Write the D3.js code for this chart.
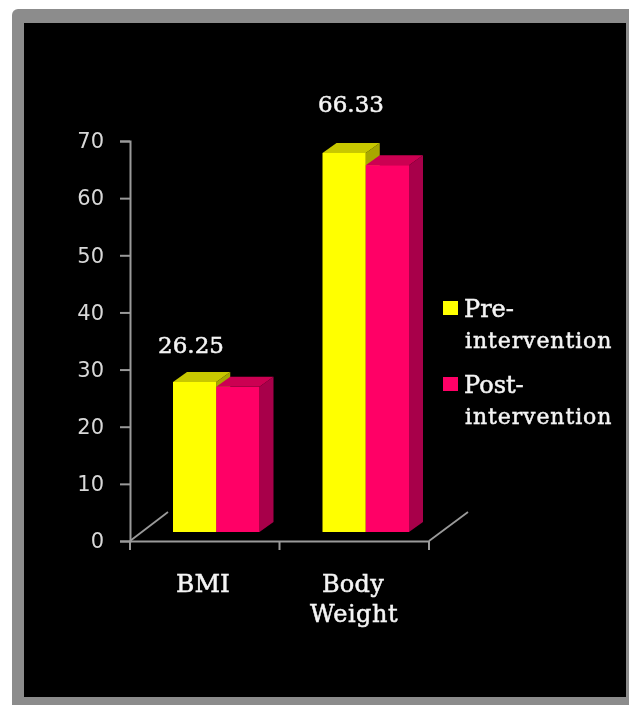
<!DOCTYPE html>
<html>
<head>
<meta charset="utf-8">
<script src="https://cdn.jsdelivr.net/npm/d3@7"></script>
<style>
  html, body { margin: 0; padding: 0; background: #fff; overflow: hidden; }
  svg { display: block; filter: blur(0.5px); }
  .domain, .tick line { stroke: #9a9a9a; stroke-width: 2; }
</style>
</head>
<body>
<div id="chart"></div>
<script>
const categories = ["BMI", "Body Weight"];
const seriesNames = ["Pre-intervention", "Post-intervention"];
const preValues = [26.25, 66.33];
const postValues = [25.4, 64.2];
const yTicks = [0, 10, 20, 30, 40, 50, 60, 70];

const svg = d3.select("#chart").append("svg")
    .attr("width", 629)
    .attr("height", 705);

// grey picture frame with the black plot area inside
svg.append("rect").attr("x", 12).attr("y", 9).attr("width", 640).attr("height", 720).attr("rx", 6).attr("fill", "#8c8c8c");
svg.append("rect").attr("x", 24).attr("y", 23).attr("width", 602).attr("height", 674).attr("fill", "#000");

const yScale = d3.scaleLinear().domain([0, 70]).range([541, 141]);
const xScale = d3.scaleBand().domain(categories).range([130, 429]);
const barScale = d3.scaleBand().domain([0, 1]).range([0, 86.5]);

// floor depth lines
const floor = [[130, 541, 168, 512], [429, 541, 468, 512]];
svg.selectAll(".floor").data(floor).enter().append("line")
    .attr("class", "floor")
    .attr("x1", d => d[0]).attr("y1", d => d[1])
    .attr("x2", d => d[2]).attr("y2", d => d[3])
    .attr("stroke", "#9a9a9a").attr("stroke-width", 1.8);

const yAxis = d3.axisLeft(yScale).tickValues(yTicks).tickSize(10).tickPadding(16);
const yG = svg.append("g").attr("transform", "translate(130,0)").call(yAxis);
yG.selectAll("text")
    .attr("fill", "#d8d8d8")
    .style("font-family", "'DejaVu Sans', sans-serif")
    .style("font-size", "21px");

const xAxis = d3.axisBottom(xScale).tickValues([]).tickSize(0);
const xG = svg.append("g").attr("transform", "translate(0,541)").call(xAxis);
xG.selectAll(".xtick").data(d3.range(3)).enter().append("line")
    .attr("class", "xtick")
    .attr("x1", d => 130 + d * xScale.step()).attr("x2", d => 130 + d * xScale.step())
    .attr("y1", 0).attr("y2", 9)
    .attr("stroke", "#9a9a9a").attr("stroke-width", 2);

const bars = [];
categories.forEach((c, i) => {
    bars.push({cat: c, s: 0, v: preValues[i], front: "#ffff00", top: "#c8c800", side: "#a8a800"});
    bars.push({cat: c, s: 1, v: postValues[i], front: "#ff0066", top: "#cc0052", side: "#a8004a"});
});

const depthX = 14, depthY = 10, offX = 11.5, offY = 9;
const frontH = v => yScale(0) - yScale(v);
const left = d => xScale(d.cat) + xScale.bandwidth() / 2 - 43.25 + offX + barScale(d.s);
const base = yScale(0) - offY;

const g = svg.append("g");
bars.forEach(d => {
    const x0 = left(d), x1 = x0 + barScale.bandwidth(), y0 = base - frontH(d.v);
    g.append("path").attr("fill", d.side)
        .attr("d", `M${x1},${y0}L${x1 + depthX},${y0 - depthY}L${x1 + depthX},${base - depthY}L${x1},${base}Z`);
    g.append("path").attr("fill", d.top)
        .attr("d", `M${x0},${y0}L${x0 + depthX},${y0 - depthY}L${x1 + depthX},${y0 - depthY}L${x1},${y0}Z`);
    g.append("rect").attr("fill", d.front)
        .attr("x", x0).attr("y", y0).attr("width", barScale.bandwidth()).attr("height", frontH(d.v));
});

function label(x, y, str, size, spacing, anchor) {
    return svg.append("text")
        .attr("x", x).attr("y", y)
        .attr("text-anchor", anchor || "start")
        .attr("fill", "#f4f4f4")
        .attr("stroke", "#f4f4f4")
        .attr("stroke-width", 0.5)
        .style("font-family", "'DejaVu Serif', serif")
        .style("font-size", size + "px")
        .style("letter-spacing", spacing + "px")
        .text(str);
}

// value labels, only the pre-intervention bars carry one
label(191, yScale(preValues[0]) - 29 - offY, preValues[0], 23, 0, "middle");
label(351, yScale(preValues[1]) - 41 - offY, preValues[1], 23, 0, "middle");

// category labels, broken over two lines like the original
label(203, 592, "BMI", 25, 0, "middle");
label(353, 592, "Body", 24, 0.3, "middle");
label(354, 622, "Weight", 24, 0.5, "middle");

// legend
const legendColors = ["#ffff00", "#ff0066"];
const legendY = [301, 377];
seriesNames.forEach((name, i) => {
    const parts = name.split("-");
    svg.append("rect").attr("x", 443).attr("y", legendY[i]).attr("width", 15).attr("height", 14).attr("fill", legendColors[i]);
    label(464, legendY[i] + 16, parts[0] + "-", 24, 0);
    label(465, legendY[i] + 47, parts[1], 22, 0.9);
});
</script>
</body>
</html>
